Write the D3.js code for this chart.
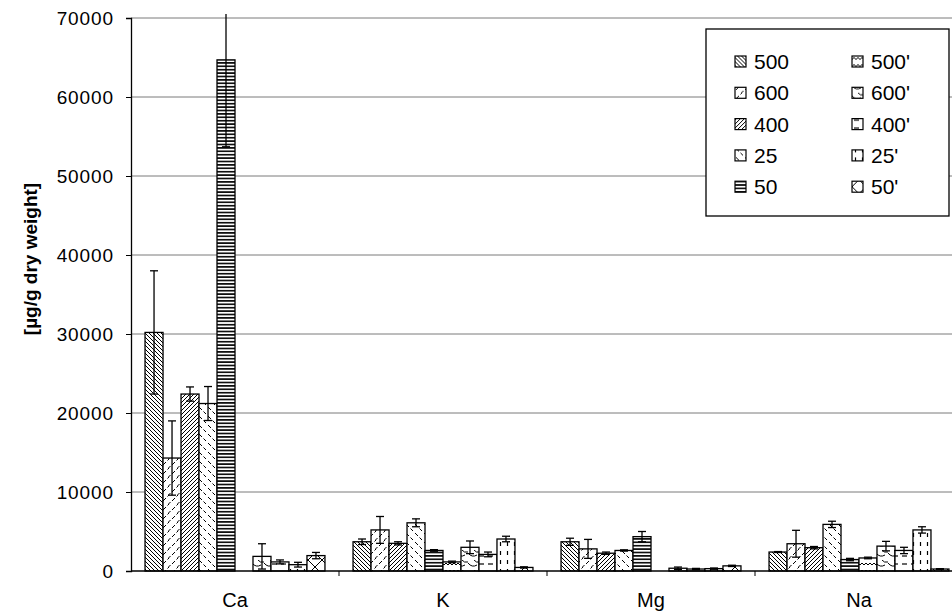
<!DOCTYPE html>
<html>
<head>
<meta charset="utf-8">
<script src="https://cdn.jsdelivr.net/npm/d3@7"></script>
<style>
  body { margin: 0; background: #fff; }
  svg { font-family: "Liberation Sans", Arial, sans-serif; }
</style>
</head>
<body>
<svg id="chart" width="952" height="613"></svg>
<script>
// elements on the x axis
const ELEMENTS = ["Ca", "K", "Mg", "Na"];
// series (temperatures, primed = second treatment)
const SERIES = ["500", "600", "400", "25", "50", "500'", "600'", "400'", "25'", "50'"];
const Y_TICKS = [0, 10000, 20000, 30000, 40000, 50000, 60000, 70000];

// mean values per series, in ELEMENTS order
const v500  = [30200, 3700, 3700, 2400];
const v600  = [14300, 5200, 2800, 3450];
const v400  = [22400, 3500, 2250, 2950];
const v25   = [21200, 6100, 2600, 5900];
const v50   = [64700, 2600, 4350, 1450];
const v500p = [0, 1150, 0, 1650];
const v600p = [1850, 3000, 350, 3150];
const v400p = [1150, 2100, 250, 2600];
const v25p  = [800, 4050, 300, 5200];
const v50p  = [1950, 450, 650, 250];

// standard deviations
const e500  = [7800, 350, 450, 60];
const e600  = [4700, 1700, 1200, 1700];
const e400  = [900, 200, 150, 150];
const e25   = [2150, 500, 80, 400];
const e50   = [11000, 100, 650, 150];
const e500p = [0, 100, 0, 100];
const e600p = [1600, 800, 150, 600];
const e400p = [250, 300, 80, 400];
const e25p  = [300, 350, 80, 400];
const e50p  = [400, 80, 80, 50];

const VALUES = [v500, v600, v400, v25, v50, v500p, v600p, v400p, v25p, v50p];
const ERRORS = [e500, e600, e400, e25, e50, e500p, e600p, e400p, e25p, e50p];

const plotLeft = 131, plotTop = 18, plotRight = 963, plotBottom = 571;
const svg = d3.select("#chart");

// hatch patterns, one per series
const PATTERNS = [
  {id: "p0", w: 4, h: 4, d: "M0,0L4,4M-1,3L1,5M3,-1L5,1", sw: 1},
  {id: "p1", w: 9, h: 9, d: "M1,6L4,3M5.5,10L8.5,7M5.5,1.5L8,-1", sw: 1},
  {id: "p2", w: 4, h: 4, d: "M0,4L4,0M-1,1L1,-1M3,5L5,3", sw: 1},
  {id: "p3", w: 9, h: 9, d: "M1,2L4,5M5.5,6.5L8.5,9.5", sw: 1},
  {id: "p4", w: 4, h: 3.4, d: "M0,1.7L4,1.7", sw: 1.6},
  {id: "p5", w: 8, h: 7, d: "M0,5L2,3L4,5L6,3L8,5", sw: 1},
  {id: "p6", w: 12, h: 10, d: "M0,3Q4,8 9,5M6,0Q8,3 12,2", sw: 1},
  {id: "p7", w: 9, h: 8, d: "M2,4L7,4", sw: 1.2},
  {id: "p8", w: 7, h: 9, d: "M3.5,2L3.5,6", sw: 1.2},
  {id: "p9", w: 14, h: 14, d: "M0,0L14,14M14,0L0,14", sw: 1}
];

function renderPatterns(target) {
  let defs = target.append("defs");
  let pat = defs.selectAll("pattern")
    .data(PATTERNS)
    .enter()
    .append("pattern")
    .attr("id", d => d.id)
    .attr("patternUnits", "userSpaceOnUse")
    .attr("width", d => d.w)
    .attr("height", d => d.h);
  pat.append("rect")
    .attr("width", d => d.w)
    .attr("height", d => d.h)
    .attr("fill", "#fff");
  pat.append("path")
    .attr("d", d => d.d)
    .attr("stroke", "#000")
    .attr("stroke-width", d => d.sw)
    .attr("fill", "none");

  defs.append("clipPath")
    .attr("id", "plot-clip")
    .append("rect")
    .attr("x", plotLeft - 2)
    .attr("y", plotTop - 4)
    .attr("width", plotRight - plotLeft + 4)
    .attr("height", plotBottom - plotTop + 6);
}

const x0 = d3.scaleBand()
  .domain(ELEMENTS)
  .range([plotLeft, plotRight])
  .paddingInner(0.135)
  .paddingOuter(0.0675);

const x1 = d3.scaleBand()
  .domain(SERIES)
  .range([0, x0.bandwidth()]);

const y = d3.scaleLinear()
  .domain([0, 70000])
  .range([plotBottom, plotTop]);

function renderGrid(target) {
  target.append("g")
    .attr("class", "y-grid")
    .selectAll("line")
    .data(Y_TICKS.slice(1))
    .enter()
    .append("line")
    .attr("x1", plotLeft)
    .attr("x2", plotRight)
    .attr("y1", d => y(d))
    .attr("y2", d => y(d))
    .attr("stroke", "#7a7a7a")
    .attr("stroke-width", 1);
}

function renderYAxis(target) {
  let g = target.append("g")
    .attr("class", "y-axis")
    .attr("transform", `translate(${plotLeft},0)`)
    .call(d3.axisLeft(y).tickValues(Y_TICKS).tickSize(5).tickPadding(12).tickFormat(d3.format("d")));
  g.select(".domain").attr("stroke", "#000").attr("stroke-width", 1.3);
  g.selectAll("text")
    .style("font-size", "19px")
    .style("letter-spacing", "0.9px")
    .style("font-family", "'Liberation Sans', Arial, sans-serif")
    .attr("fill", "#000");

  target.append("text")
    .attr("transform", "translate(30,259) rotate(-90)")
    .attr("text-anchor", "middle")
    .attr("dominant-baseline", "central")
    .style("font-size", "19px")
    .style("font-weight", "bold")
    .text("[µg/g dry weight]");
}

function renderXAxis(target) {
  let g = target.append("g").attr("class", "x-axis");
  g.append("line")
    .attr("x1", plotLeft)
    .attr("x2", plotRight)
    .attr("y1", plotBottom)
    .attr("y2", plotBottom)
    .attr("stroke", "#000")
    .attr("stroke-width", 1.3);
  g.selectAll("line.tick")
    .data(ELEMENTS.slice(1))
    .enter()
    .append("line")
    .attr("class", "tick")
    .attr("x1", d => x0(d) - x0.step() * x0.paddingInner() / 2)
    .attr("x2", d => x0(d) - x0.step() * x0.paddingInner() / 2)
    .attr("y1", plotBottom)
    .attr("y2", plotBottom + 5)
    .attr("stroke", "#000");
  g.selectAll("text")
    .data(ELEMENTS)
    .enter()
    .append("text")
    .attr("x", d => x0(d) + x0.bandwidth() / 2)
    .attr("y", 607)
    .attr("text-anchor", "middle")
    .style("font-size", "20px")
    .text(d => d);
}

function renderBars(target) {
  let rows = [];
  SERIES.forEach((s, i) => {
    ELEMENTS.forEach((el, j) => {
      rows.push({series: s, idx: i, el: el, v: VALUES[i][j], e: ERRORS[i][j]});
    });
  });

  let plot = target.append("g").attr("clip-path", "url(#plot-clip)");

  plot.selectAll("rect.bar")
    .data(rows.filter(d => d.v > 0))
    .enter()
    .append("rect")
    .attr("class", "bar")
    .attr("x", d => x0(d.el) + x1(d.series))
    .attr("width", x1.bandwidth())
    .attr("y", d => y(d.v))
    .attr("height", d => plotBottom - y(d.v))
    .attr("fill", d => `url(#p${d.idx})`)
    .attr("stroke", "#000")
    .attr("stroke-width", 1.3);

  // error bars
  let err = plot.selectAll("g.err")
    .data(rows.filter(d => d.e > 0))
    .enter()
    .append("g")
    .attr("class", "err")
    .attr("stroke", "#000")
    .attr("stroke-width", 1.3);
  let cx = d => x0(d.el) + x1(d.series) + x1.bandwidth() / 2;
  err.append("line")
    .attr("x1", cx).attr("x2", cx)
    .attr("y1", d => y(d.v + d.e))
    .attr("y2", d => y(Math.max(0, d.v - d.e)));
  err.append("line")
    .attr("x1", d => cx(d) - 4).attr("x2", d => cx(d) + 4)
    .attr("y1", d => y(d.v + d.e))
    .attr("y2", d => y(d.v + d.e));
  err.append("line")
    .attr("x1", d => cx(d) - 4).attr("x2", d => cx(d) + 4)
    .attr("y1", d => y(Math.max(0, d.v - d.e)))
    .attr("y2", d => y(Math.max(0, d.v - d.e)));
}

function renderLegend(target) {
  let g = target.append("g").attr("class", "legend");
  g.append("rect")
    .attr("x", 706)
    .attr("y", 29)
    .attr("width", 243)
    .attr("height", 187)
    .attr("fill", "#fff")
    .attr("stroke", "#000")
    .attr("stroke-width", 1.3);

  // column-major: first five in left column, primed in right column
  let items = g.selectAll("g.item")
    .data(SERIES)
    .enter()
    .append("g")
    .attr("class", "item")
    .attr("transform", (d, i) => {
      let col = Math.floor(i / 5), row = i % 5;
      return `translate(${735 + col * 117},${61.5 + row * 31.3})`;
    });
  items.append("rect")
    .attr("x", 0)
    .attr("y", -5.5)
    .attr("width", 11)
    .attr("height", 11)
    .attr("fill", (d, i) => `url(#p${i})`)
    .attr("stroke", "#000")
    .attr("stroke-width", 1.2);
  items.append("text")
    .attr("x", 19)
    .attr("y", 7.5)
    .style("font-size", "21px")
    .text(d => d);
}

renderPatterns(svg);
renderGrid(svg);
renderBars(svg);
renderXAxis(svg);
renderYAxis(svg);
renderLegend(svg);
</script>
</body>
</html>
